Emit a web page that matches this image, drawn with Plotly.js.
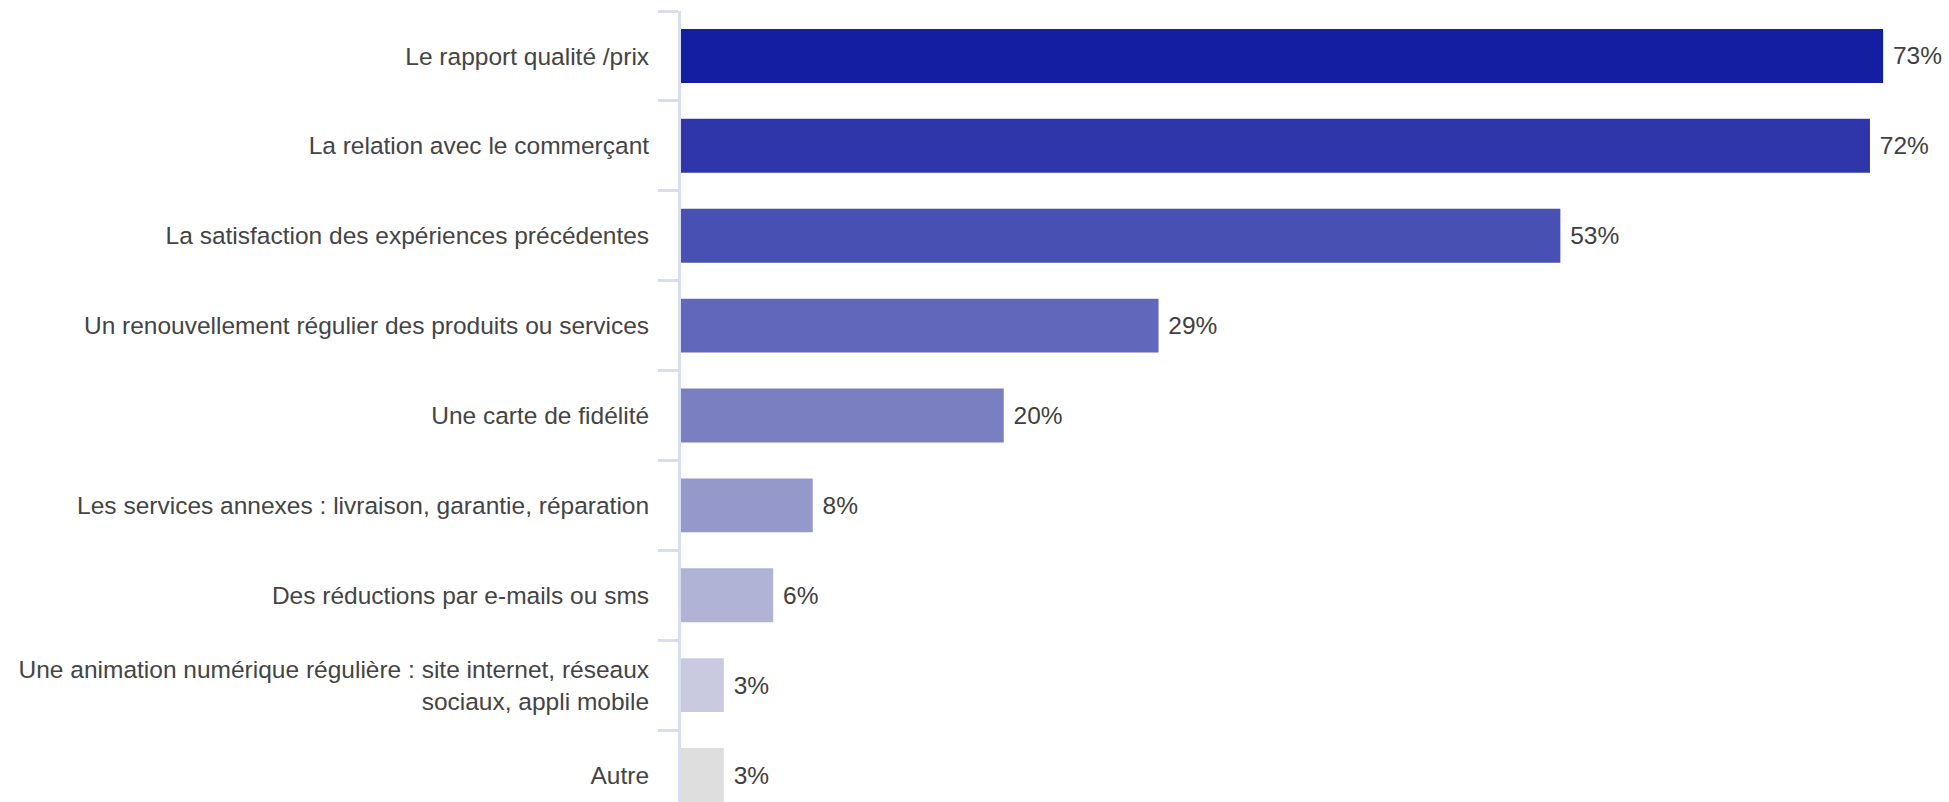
<!DOCTYPE html>
<html>
<head>
<meta charset="utf-8">
<script src="https://cdn.plot.ly/plotly-3.0.1.min.js"></script>
<style>
  html, body { margin: 0; padding: 0; background: #ffffff; }
  #chart { width: 1949px; height: 802px; }
</style>
</head>
<body>
<div id="chart"></div>
<script>
const categories = [
  "Le rapport qualité /prix",
  "La relation avec le commerçant",
  "La satisfaction des expériences précédentes",
  "Un renouvellement régulier des produits ou services",
  "Une carte de fidélité",
  "Les services annexes : livraison, garantie, réparation",
  "Des réductions par e-mails ou sms",
  "Une animation numérique régulière : site internet, réseaux<br>sociaux, appli mobile",
  "Autre"
];
const values = [73.0, 72.2, 53.4, 29.0, 19.6, 8.0, 5.6, 2.6, 2.6];
const barColors = [
  "#141ea0", "#2f36a9", "#4850b3", "#6167bb", "#7a7fc2",
  "#9598cb", "#b0b2d6", "#c9cae0", "#dedede"
];

const trace = {
  type: "bar",
  orientation: "h",
  x: values,
  y: categories,
  width: 0.6,
  marker: { color: barColors, line: { width: 0 } },
  texttemplate: "\u00a0%{x:.0f}%",
  textposition: "outside",
  constraintext: "none",
  cliponaxis: false,
  textfont: { family: "Liberation Sans, Arial, sans-serif", size: 24.5, color: "#404040" },
  hoverinfo: "none"
};

const layout = {
  width: 1949,
  height: 802,
  margin: { l: 681, r: 0, t: 11, b: 0, pad: 0 },
  paper_bgcolor: "#ffffff",
  plot_bgcolor: "#ffffff",
  showlegend: false,
  font: { family: "Liberation Sans, Arial, sans-serif", size: 24.5, color: "#444444" },
  xaxis: {
    range: [0, 77],
    visible: false,
    showgrid: false,
    zeroline: false
  },
  yaxis: {
    type: "category",
    range: [8.3, -0.5],
    showline: true,
    linecolor: "#d6def0",
    linewidth: 3,
    ticks: "outside",
    tickson: "boundaries",
    ticklen: 20,
    tickwidth: 3,
    tickcolor: "#d6def0",
    showgrid: false,
    zeroline: false,
    tickfont: { family: "Liberation Sans, Arial, sans-serif", size: 24.5, color: "#444444" },
    ticklabelstandoff: 24
  }
};

Plotly.newPlot("chart", [trace], layout, { displayModeBar: false, staticPlot: true });
</script>
</body>
</html>
